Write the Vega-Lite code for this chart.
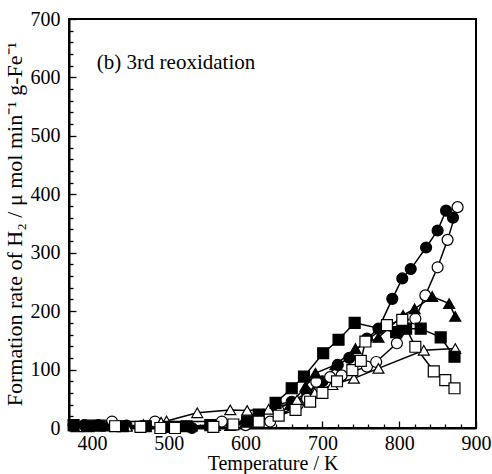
{
  "$schema": "https://vega.github.io/schema/vega-lite/v6.json",
  "width": 407,
  "height": 409,
  "autosize": {"type": "none"},
  "padding": {"left": 69, "top": 19, "right": 16, "bottom": 46},
  "config": {
    "view": {"stroke": "black", "strokeWidth": 2},
    "font": "Liberation Serif",
    "axis": {
      "grid": false,
      "domainColor": "black",
      "domainWidth": 2,
      "tickColor": "black",
      "tickWidth": 1.3,
      "labelColor": "black",
      "titleColor": "black",
      "labelFont": "Liberation Serif",
      "titleFont": "Liberation Serif",
      "labelFontSize": 20,
      "titleFontWeight": "normal",
      "labelFlush": false,
      "labelOverlap": false
    }
  },
  "datasets": {
    "rates": [
      {"series": "s1", "T": 376, "rate": 5}, {"series": "s1", "T": 390, "rate": 5}, {"series": "s1", "T": 408, "rate": 5}, {"series": "s1", "T": 445, "rate": 4}, {"series": "s1", "T": 530, "rate": 0}, {"series": "s1", "T": 560, "rate": 3}, {"series": "s1", "T": 600, "rate": 8}, {"series": "s1", "T": 640, "rate": 40}, {"series": "s1", "T": 660, "rate": 45}, {"series": "s1", "T": 680, "rate": 60}, {"series": "s1", "T": 700, "rate": 80}, {"series": "s1", "T": 720, "rate": 108}, {"series": "s1", "T": 735, "rate": 120}, {"series": "s1", "T": 758, "rate": 153}, {"series": "s1", "T": 773, "rate": 170}, {"series": "s1", "T": 791, "rate": 221}, {"series": "s1", "T": 804, "rate": 256}, {"series": "s1", "T": 815, "rate": 272}, {"series": "s1", "T": 835, "rate": 309}, {"series": "s1", "T": 850, "rate": 338}, {"series": "s1", "T": 861, "rate": 372}, {"series": "s1", "T": 870, "rate": 360},
      {"series": "s2", "T": 426, "rate": 11}, {"series": "s2", "T": 482, "rate": 11}, {"series": "s2", "T": 569, "rate": 11}, {"series": "s2", "T": 600, "rate": 5}, {"series": "s2", "T": 615, "rate": 10}, {"series": "s2", "T": 632, "rate": 11}, {"series": "s2", "T": 668, "rate": 40}, {"series": "s2", "T": 680, "rate": 50}, {"series": "s2", "T": 692, "rate": 79}, {"series": "s2", "T": 710, "rate": 87}, {"series": "s2", "T": 725, "rate": 90}, {"series": "s2", "T": 758, "rate": 105}, {"series": "s2", "T": 770, "rate": 113}, {"series": "s2", "T": 797, "rate": 145}, {"series": "s2", "T": 821, "rate": 187}, {"series": "s2", "T": 834, "rate": 227}, {"series": "s2", "T": 850, "rate": 275}, {"series": "s2", "T": 863, "rate": 322}, {"series": "s2", "T": 876, "rate": 378},
      {"series": "s3", "T": 378, "rate": 3}, {"series": "s3", "T": 419, "rate": 3}, {"series": "s3", "T": 445, "rate": 3}, {"series": "s3", "T": 530, "rate": 3}, {"series": "s3", "T": 560, "rate": 4}, {"series": "s3", "T": 580, "rate": 4}, {"series": "s3", "T": 617, "rate": 23}, {"series": "s3", "T": 640, "rate": 38}, {"series": "s3", "T": 658, "rate": 40}, {"series": "s3", "T": 678, "rate": 71}, {"series": "s3", "T": 691, "rate": 94}, {"series": "s3", "T": 717, "rate": 108}, {"series": "s3", "T": 743, "rate": 136}, {"series": "s3", "T": 773, "rate": 155}, {"series": "s3", "T": 805, "rate": 193}, {"series": "s3", "T": 820, "rate": 204}, {"series": "s3", "T": 843, "rate": 225}, {"series": "s3", "T": 865, "rate": 213}, {"series": "s3", "T": 873, "rate": 191},
      {"series": "s4", "T": 380, "rate": 2}, {"series": "s4", "T": 395, "rate": 2}, {"series": "s4", "T": 445, "rate": 3}, {"series": "s4", "T": 467, "rate": 6}, {"series": "s4", "T": 490, "rate": 10}, {"series": "s4", "T": 497, "rate": 12}, {"series": "s4", "T": 537, "rate": 26}, {"series": "s4", "T": 580, "rate": 31}, {"series": "s4", "T": 602, "rate": 30}, {"series": "s4", "T": 630, "rate": 32}, {"series": "s4", "T": 645, "rate": 35}, {"series": "s4", "T": 667, "rate": 48}, {"series": "s4", "T": 690, "rate": 60}, {"series": "s4", "T": 713, "rate": 74}, {"series": "s4", "T": 741, "rate": 85}, {"series": "s4", "T": 773, "rate": 102}, {"series": "s4", "T": 832, "rate": 133}, {"series": "s4", "T": 873, "rate": 136},
      {"series": "s5", "T": 376, "rate": 5}, {"series": "s5", "T": 395, "rate": 4}, {"series": "s5", "T": 410, "rate": 4}, {"series": "s5", "T": 440, "rate": 3}, {"series": "s5", "T": 470, "rate": 3}, {"series": "s5", "T": 500, "rate": 2}, {"series": "s5", "T": 523, "rate": 3}, {"series": "s5", "T": 554, "rate": 5}, {"series": "s5", "T": 602, "rate": 11}, {"series": "s5", "T": 617, "rate": 23}, {"series": "s5", "T": 639, "rate": 43}, {"series": "s5", "T": 660, "rate": 68}, {"series": "s5", "T": 676, "rate": 88}, {"series": "s5", "T": 701, "rate": 128}, {"series": "s5", "T": 721, "rate": 151}, {"series": "s5", "T": 742, "rate": 180}, {"series": "s5", "T": 796, "rate": 164}, {"series": "s5", "T": 809, "rate": 170}, {"series": "s5", "T": 828, "rate": 170}, {"series": "s5", "T": 854, "rate": 155}, {"series": "s5", "T": 872, "rate": 122},
      {"series": "s6", "T": 430, "rate": 3}, {"series": "s6", "T": 463, "rate": 2}, {"series": "s6", "T": 489, "rate": 0}, {"series": "s6", "T": 508, "rate": 0}, {"series": "s6", "T": 558, "rate": 2}, {"series": "s6", "T": 584, "rate": 6}, {"series": "s6", "T": 617, "rate": 11}, {"series": "s6", "T": 643, "rate": 21}, {"series": "s6", "T": 665, "rate": 31}, {"series": "s6", "T": 684, "rate": 45}, {"series": "s6", "T": 700, "rate": 60}, {"series": "s6", "T": 719, "rate": 80}, {"series": "s6", "T": 739, "rate": 99}, {"series": "s6", "T": 750, "rate": 115}, {"series": "s6", "T": 756, "rate": 148}, {"series": "s6", "T": 784, "rate": 176}, {"series": "s6", "T": 804, "rate": 185}, {"series": "s6", "T": 821, "rate": 139}, {"series": "s6", "T": 845, "rate": 97}, {"series": "s6", "T": 860, "rate": 82}, {"series": "s6", "T": 872, "rate": 68}
    ],
    "notes": [{"note": "(b) 3rd reoxidation"}]
  },
  "resolve": {"axis": {"x": "independent", "y": "independent"}},
  "layer": [
    {
      "data": {"name": "rates"},
      "encoding": {
        "x": {
          "field": "T", "type": "quantitative",
          "scale": {"domain": [370, 900], "nice": false, "zero": false},
          "axis": {
            "orient": "bottom",
            "title": "Temperature / K",
            "titleFontSize": 20,
            "values": [400, 500, 600, 700, 800, 900],
            "tickSize": -7,
            "labelOverlap": false,
            "labelPadding": 12,
            "titlePadding": 0
          }
        },
        "y": {
          "field": "rate", "type": "quantitative",
          "scale": {"domain": [0, 700], "nice": false},
          "axis": {
            "orient": "left",
            "title": "Formation rate of  H₂ / μ mol min⁻¹ g-Fe⁻¹",
            "titleFontSize": 22,
            "values": [0, 100, 200, 300, 400, 500, 600, 700],
            "tickSize": -7,
            "labelOverlap": false,
            "labelPadding": 16,
            "titlePadding": 4
          }
        }
      },
      "layer": [
        {
          "mark": {"type": "line", "color": "black", "strokeWidth": 1.5},
          "encoding": {"detail": {"field": "series"}}
        },
        {
          "mark": {"type": "point", "filled": true, "stroke": "black", "strokeWidth": 1.2, "size": 120, "opacity": 1},
          "encoding": {
            "shape": {"field": "series", "scale": {"domain": ["s1", "s2", "s3", "s4", "s5", "s6"], "range": ["circle", "circle", "triangle-up", "triangle-up", "square", "square"]}, "legend": null},
            "fill": {"field": "series", "scale": {"domain": ["s1", "s2", "s3", "s4", "s5", "s6"], "range": ["black", "white", "black", "white", "black", "white"]}, "legend": null}
          }
        }
      ]
    },
    {
      "data": {"name": "notes"},
      "mark": {"type": "text", "align": "left", "baseline": "middle", "fontSize": 21, "font": "Liberation Serif", "fill": "black"},
      "encoding": {
        "x": {
          "datum": 406,
          "axis": {
            "orient": "bottom",
            "title": null,
            "labels": false,
            "domain": false,
            "tickSize": -4,
            "values": [380, 420, 440, 460, 480, 520, 540, 560, 580, 620, 640, 660, 680, 720, 740, 760, 780, 820, 840, 860, 880]
          }
        },
        "y": {
          "datum": 625,
          "axis": {
            "orient": "left",
            "title": null,
            "labels": false,
            "domain": false,
            "tickSize": -4,
            "values": [20, 40, 60, 80, 120, 140, 160, 180, 220, 240, 260, 280, 320, 340, 360, 380, 420, 440, 460, 480, 520, 540, 560, 580, 620, 640, 660, 680]
          }
        },
        "text": {"field": "note", "type": "nominal"}
      }
    }
  ]
}
